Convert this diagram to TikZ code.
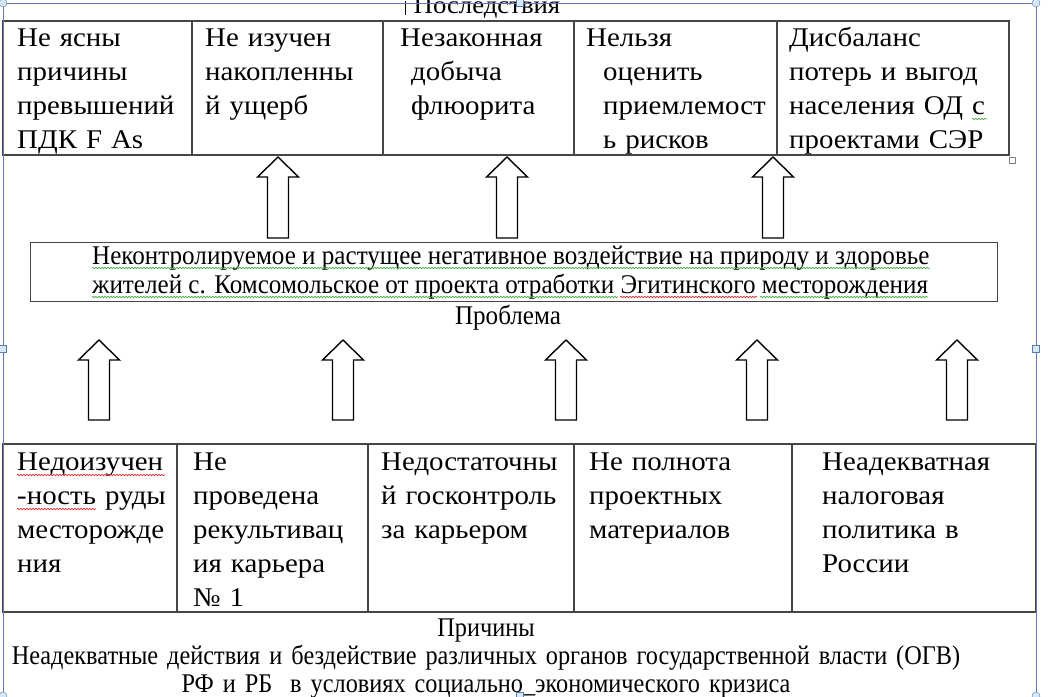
\documentclass[tikz,border=0pt]{standalone}
\usepackage{fontspec}
\setmainfont{Liberation Serif}
\newfontfamily\cellfont{Liberation Serif}[FakeStretch=1.07]
\newfontfamily\notefont{Liberation Serif}[FakeStretch=0.93]
\newfontfamily\rootfont{Liberation Serif}[FakeStretch=0.9]
\usetikzlibrary{decorations.pathmorphing}
\definecolor{framecol}{RGB}{88,124,178}
\definecolor{rulecol}{RGB}{70,70,70}
\definecolor{spellgreen}{RGB}{70,175,70}
\definecolor{spellred}{RGB}{225,45,45}
\definecolor{handlecol}{RGB}{215,232,250}
\tikzset{
  cell/.style={anchor=base west, inner sep=0pt, text width=230pt, align=left,
    font=\cellfont\fontsize{27}{34}\selectfont},
  probline/.style={anchor=base west, inner sep=0pt, font=\notefont\fontsize{27}{29}\selectfont},
  caption/.style={anchor=base, inner sep=0pt, font=\cellfont\fontsize{25}{29}\selectfont},
  grid/.style={draw=rulecol, line width=1.3pt},
  blockup/.style={draw=black, line width=1.4pt, fill=white},
  wavy/.style={decorate, decoration={snake, amplitude=0.7pt, segment length=3pt}, line width=0.7pt},
}
\newcommand{\blockarrow}[3]{% centre x, tip y, bottom y
  \draw[blockup] (#1,#2) -- (#1+20.5,#2+20) -- (#1+10.5,#2+20) -- (#1+10.5,#3)
    -- (#1-10.5,#3) -- (#1-10.5,#2+20) -- (#1-20.5,#2+20) -- cycle;}
\begin{document}
\begin{tikzpicture}[x=1pt, y=-1pt]
  \useasboundingbox (0,0) rectangle (1054,696);
  \fill[white] (0,0) rectangle (1054,696);

  % consequences
  \node[caption] (head) at (487,13) {Последствия};
  \draw[line width=0.8pt] (405,1) -- (405,15);
  \draw[grid] (3,21) rectangle (1009,155);
  \foreach \x in {192,383,574,777} \draw[grid] (\x,21) -- (\x,155);
  \node[cell] (res1) at (17,46) {Не ясны\\причины\\превышений\\ПДК F As};
  \node[cell] (res2) at (205,46) {Не изучен\\накопленны\\й ущерб};
  \node[cell] (res3) at (400,46) {Незаконная\\\hspace*{11pt}добыча\\\hspace*{11pt}флюорита};
  \node[cell] (res4) at (586,46) {Нельзя\\\hspace*{17pt}оценить\\\hspace*{17pt}приемлемост\\\hspace*{17pt}ь рисков};
  \node[cell] (res5) at (789,46) {Дисбаланс\\потерь и выгод\\населения ОД с\\проектами СЭР};
  \draw[spellgreen, wavy] (972,119) -- (987,119);

  % arrows to the consequences
  \foreach \x in {278,507,773} {\blockarrow{\x}{157}{238}}

  % problem
  \node[grid, minimum width=967pt, minimum height=59pt, anchor=north west] (prob) at (30,242) {};
  \node[probline] (probA) at (92,264) {Неконтролируемое и растущее негативное воздействие на природу и здоровье};
  \node[probline] (probB) at (92,293) {жителей с. Комсомольское от проекта отработки Эгитинского месторождения};
  \draw[spellgreen, wavy] (probA.base west) ++(0,4) -- (probA.base east |- 0,268);
  \draw[spellgreen, wavy] (probB.base west) ++(0,4) -- ++(526,0);
  \draw[spellred, wavy] (620,297) -- (757,297);
  \draw[spellgreen, wavy] (760,297) -- (probB.base east |- 0,297);
  \node[caption, font=\notefont\fontsize{27}{29}\selectfont] (probcap) at (508,324) {Проблема};

  % arrows from the causes
  \foreach \x in {99,343,566,757,957} {\blockarrow{\x}{340}{420}}

  % causes
  \draw[grid] (3,444) rectangle (1036,612);
  \foreach \x in {177,368,574,792} \draw[grid] (\x,444) -- (\x,612);
  \node[cell] (why1) at (17,470) {Недоизучен\\-ность руды\\месторожде\\ния};
  \node[cell] (why2) at (193,470) {Не\\проведена\\рекультивац\\ия карьера\\№ 1};
  \node[cell] (why3) at (381,470) {Недостаточны\\й госконтроль\\за карьером};
  \node[cell] (why4) at (589,470) {Не полнота\\проектных\\материалов};
  \node[cell] (why5) at (822,470) {Неадекватная\\налоговая\\политика в\\России};
  \draw[spellred, wavy] (17,475) -- (165,475);
  \draw[spellred, wavy] (17,509) -- (96,509);
  \node[caption, font=\rootfont\fontsize{27}{28}\selectfont, text width=1040pt, align=center] (root) at (486,636)
    {Причины\\Неадекватные действия и бездействие различных органов государственной власти (ОГВ)\\РФ и РБ~ в условиях социально\_экономического кризиса};

  % text box frame
  \draw[framecol, line width=1pt] (3,3) rectangle (1036,697);
  \foreach \p in {(3,3),(1036,3),(3,696),(1036,696)} \draw[framecol, fill=handlecol] \p circle (4);
  \foreach \p in {(520,3),(3,349),(1036,349),(520,696)} \draw[framecol, fill=handlecol] \p ++(-3.5,-3.5) rectangle ++(7,7);
  \draw[rulecol!70, fill=white, line width=0.5pt] (1009,157) rectangle ++(6,6);
\end{tikzpicture}
\end{document}
